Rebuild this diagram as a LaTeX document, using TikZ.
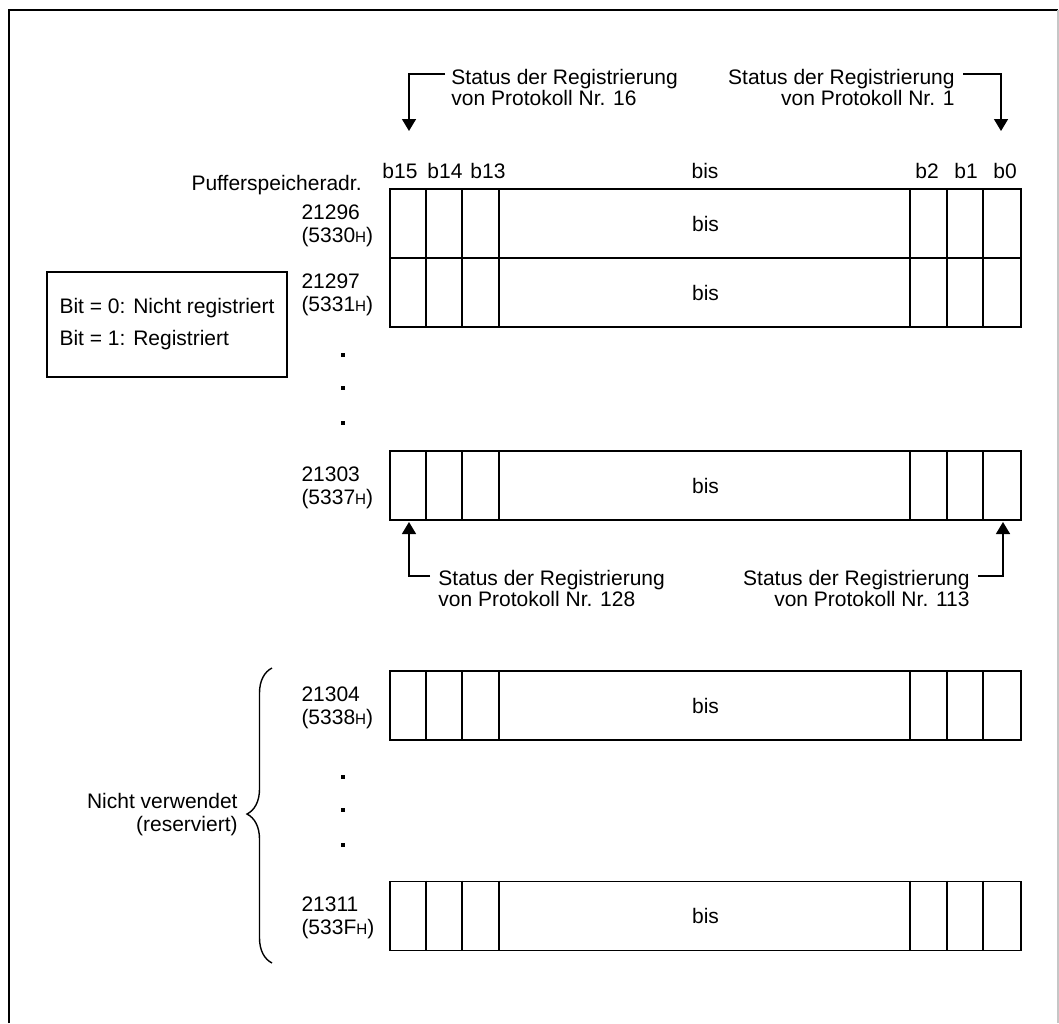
\documentclass[tikz,border=0pt]{standalone}
\usepackage{fontspec}
\setmainfont{Liberation Sans}
\usetikzlibrary{arrows.meta, positioning, decorations.pathreplacing}
\newcommand{\hexadr}[1]{(#1{\fontsize{7.6}{8}\selectfont H})}

\begin{document}
\begin{tikzpicture}[x=0.5pt, y=-0.5pt,
    every node/.style={font=\fontsize{10.5}{11.5}\selectfont},
    bitrow/.style={rectangle, draw, line width=0.9pt, minimum width=315.5pt, minimum height=34.5pt, inner sep=0pt},
    adr/.style={anchor=north west, align=left, inner sep=0pt},
    status/.style={inner sep=0pt, font=\fontsize{10.5}{10.2}\selectfont},
    bitlabel/.style={anchor=base, inner sep=0pt},
    arrow/.style={-{Triangle[length=6pt, width=7pt]}, line width=0.75pt}
]
    \useasboundingbox (0,0) rectangle (1059,1023);
    \draw[line width=1pt] (9,1023) -- (9,10) -- (1058,10);
    \draw[gray!45, line width=1pt] (1058,10) -- (1058,1023);

    % bit numbers
    \node[anchor=base east, inner sep=0pt] (puffer) at (362,190) {Pufferspeicheradr.};
    \node[bitlabel] (b15) at (400,178) {b15};
    \node[bitlabel] (b14) at (445,178) {b14};
    \node[bitlabel] (b13) at (488,178) {b13};
    \node[bitlabel] (bhead) at (705,178) {bis};
    \node[bitlabel] (b2) at (927,178) {b2};
    \node[bitlabel] (b1) at (966,178) {b1};
    \node[bitlabel] (b0) at (1005,178) {b0};

    % registers
    \node[bitrow] (r1) at (705.5,223.5) {bis};
    \node[bitrow] (r2) at (705.5,292.5) {bis};
    \node[bitrow] (r3) at (705.5,485.5) {bis};
    \node[bitrow] (r4) at (705.5,705.5) {bis};
    \node[bitrow] (r5) at (705.5,916) {bis};
    \foreach \r in {r1,r2,r3,r4,r5}
        \foreach \dx in {18.5,36.5,55,260.5,279,297}
            \draw[line width=0.9pt] ([xshift=\dx pt]\r.north west) -- ([xshift=\dx pt]\r.south west);

    \node[adr] (a1) at ([xshift=-44pt, yshift=-8pt]r1.north west) {21296\\\hexadr{5330}};
    \node[adr] (a2) at ([xshift=-44pt, yshift=-8pt]r2.north west) {21297\\\hexadr{5331}};
    \node[adr] (a3) at ([xshift=-44pt, yshift=-8pt]r3.north west) {21303\\\hexadr{5337}};
    \node[adr] (a4) at ([xshift=-44pt, yshift=-8pt]r4.north west) {21304\\\hexadr{5338}};
    \node[adr] (a5) at ([xshift=-44pt, yshift=-8pt]r5.north west) {21311\\\hexadr{533F}};

    % dots
    \fill (341,353) rectangle (345,357);
    \fill (341,386) rectangle (345,390);
    \fill (341,421) rectangle (345,425);
    \fill (341,775) rectangle (345,779);
    \fill (341,808) rectangle (345,812);
    \fill (341,843) rectangle (345,847);

    % legend
    \node[draw, line width=0.8pt, minimum width=120pt, minimum height=52.5pt, align=left] (legend) at (167,324.5)
        {Bit = 0: Nicht registriert\\[4.5pt]Bit = 1: Registriert};

    % status labels
    \node[status, anchor=north west, align=left] (s16) at (451,69) {Status der Registrierung\\von Protokoll Nr. 16};
    \node[status, anchor=north east, align=right] (s1) at (955,69) {Status der Registrierung\\von Protokoll Nr. 1};
    \node[status, anchor=north west, align=left] (s128) at (438,570) {Status der Registrierung\\von Protokoll Nr. 128};
    \node[status, anchor=north east, align=right] (s113) at (970,570) {Status der Registrierung\\von Protokoll Nr. 113};
    \coordinate (t16) at (409,131);
    \coordinate (t1) at (1001,131);
    \coordinate (t128) at (409,522);
    \coordinate (t113) at (1003,522);

    \draw[arrow] ([xshift=-3pt, yshift=-2.5pt]s16.north west) -| (t16);
    \draw[arrow] ([xshift=4pt, yshift=-2.5pt]s1.north east) -| (t1);
    \draw[arrow] ([xshift=-4pt, yshift=-3pt]s128.north west) -| (t128);
    \draw[arrow] ([xshift=4pt, yshift=-3pt]s113.north east) -| (t113);

    % reserved area
    \coordinate (bb) at (272,963);
    \coordinate (bt) at (272,668);
    \draw[decorate, decoration={brace, amplitude=12.5pt, aspect=0.505}, line width=0.7pt] (bb) -- (bt);
    \node[anchor=east, align=right, inner sep=0pt] (nv) at (238,815) {Nicht verwendet\\(reserviert)};
\end{tikzpicture}
\end{document}
